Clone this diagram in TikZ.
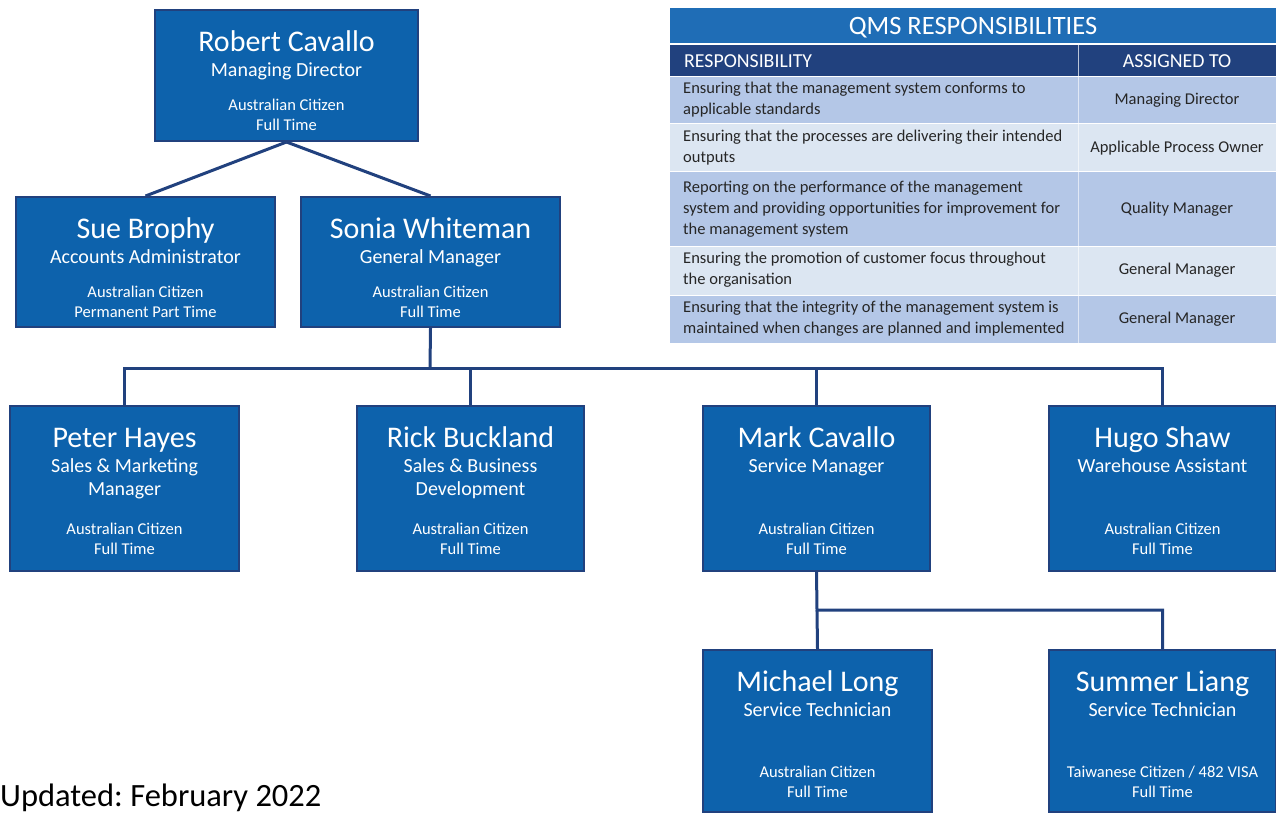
\documentclass[tikz,border=0pt]{standalone}
\usepackage{fontspec}
\setmainfont{Carlito}
\usetikzlibrary{calc}
\frenchspacing
\definecolor{boxblue}{HTML}{0D62AC}
\definecolor{navy}{HTML}{21417E}
\definecolor{titleblue}{HTML}{1F6DB6}
\definecolor{rowdark}{HTML}{B4C7E7}
\definecolor{rowlight}{HTML}{DCE6F2}
\definecolor{bodytext}{HTML}{262626}
\tikzset{
  pbox/.style={draw=navy, line width=2pt, fill=boxblue, inner sep=0pt},
  nm/.style={text=white, font=\fontsize{30}{33}\selectfont, inner sep=0pt, anchor=base},
  ttl/.style={text=white, font=\fontsize{20}{23}\selectfont, align=center, inner sep=0pt, anchor=north},
  sm/.style={text=white, font=\fontsize{16.5}{20}\selectfont, align=center, inner sep=0pt},
  link/.style={draw=navy, line width=3pt},
  cell/.style={text=bodytext, font=\fontsize{16.5}{21}\selectfont, inner sep=0pt},
}
\newcommand{\person}[8]{%
  \node[pbox, minimum width=#4-#2, minimum height=#5-#3] (#1) at ({(#2+#4)/2},{(#3+#5)/2}) {};
  \node[nm] (#1-n) at ($(#1.north)+(0,42)$) {#6};
  \node[ttl] (#1-t) at ($(#1.north)+(0,53.5)$) {#7};
  \node[sm] (#1-s) at ($(#1.north)+(0,#8)$) {\personsmall};
}
\begin{document}
\begin{tikzpicture}[x=1pt,y=-1pt]
\useasboundingbox (0,0) rectangle (1276,812);

\coordinate (bus1) at (430,368);
\coordinate (bus2) at (817,610);

\def\personsmall{Australian Citizen\\Full Time}
\person{rc}{155}{10}{418}{141}{Robert Cavallo}{Managing Director}{106}
\def\personsmall{Australian Citizen\\Permanent Part Time}
\person{sb}{16}{197}{275}{327}{Sue Brophy}{Accounts Administrator}{106}
\def\personsmall{Australian Citizen\\Full Time}
\person{sw}{301}{197}{560}{327}{Sonia Whiteman}{General Manager}{106}
\person{ph}{10}{406}{239}{571}{Peter Hayes}{Sales \& Marketing\\Manager}{134}
\person{rb}{357}{406}{584}{571}{Rick Buckland}{Sales \& Business\\Development}{134}
\person{mc}{703}{406}{930}{571}{Mark Cavallo}{Service Manager}{134}
\person{hs}{1049}{406}{1276}{571}{Hugo Shaw}{Warehouse Assistant}{134}
\person{ml}{703}{650}{932}{812}{Michael Long}{Service Technician}{133}
\def\personsmall{Taiwanese Citizen / 482 VISA\\Full Time}
\person{sl}{1049}{650}{1276}{812}{Summer Liang}{Service Technician}{133}

\draw[link] (rc.south) -- (sb.north);
\draw[link] (rc.south) -- (sw.north);
\draw[link] (sw.south) -- (bus1);
\draw[link] (ph.north) -- (ph.north |- bus1) -- (hs.north |- bus1) -- (hs.north);
\draw[link] (rb.north) -- (rb.north |- bus1);
\draw[link] (mc.north) -- (mc.north |- bus1);
\draw[link] (mc.south) -- (bus2) -- (sl.north |- bus2) -- (sl.north);
\draw[link] (bus2) -- (ml.north);

% table
\fill[titleblue] (670,8) rectangle (1276,43);
\fill[navy] (670,45) rectangle (1276,76);
\draw[white!70!navy, line width=0.6pt] (1078,45) -- (1078,76);
\fill[rowdark] (670,77) rectangle (1276,123);
\fill[rowlight] (670,124) rectangle (1276,171);
\fill[rowdark] (670,172) rectangle (1276,246);
\fill[rowlight] (670,247) rectangle (1276,295);
\fill[rowdark] (670,296) rectangle (1276,343);
\foreach \ya/\yb in {77/123,124/171,172/246,247/295,296/343}
  \draw[white, line width=0.8pt, opacity=0.6] (1078,\ya) -- (1078,\yb);

\node[text=white, font=\fontsize{26.5}{30}\selectfont, inner sep=0pt] (qt) at (973,28) {QMS RESPONSIBILITIES};
\node[text=white, font=\fontsize{19.8}{22}\selectfont, inner sep=0pt, anchor=west] (h1) at (684,61) {RESPONSIBILITY};
\node[text=white, font=\fontsize{19.8}{22}\selectfont, inner sep=0pt] (h2) at (1177,61) {ASSIGNED TO};

\node[cell, anchor=west, align=left] (r1a) at (683,100) {Ensuring that the management system conforms to\\applicable standards};
\node[cell] (r1b) at (1177,100) {Managing Director};
\node[cell, anchor=west, align=left] (r2a) at (683,148) {Ensuring that the processes are delivering their intended\\outputs};
\node[cell] (r2b) at (1177,148) {Applicable Process Owner};
\node[cell, anchor=west, align=left] (r3a) at (683,209) {Reporting on the performance of the management\\system and providing opportunities for improvement for\\the management system};
\node[cell] (r3b) at (1177,209) {Quality Manager};
\node[cell, anchor=west, align=left] (r4a) at (683,270) {Ensuring the promotion of customer focus throughout\\the organisation};
\node[cell] (r4b) at (1177,270) {General Manager};
\node[cell, anchor=west, align=left] (r5a) at (683,319) {Ensuring that the integrity of the management system is\\maintained when changes are planned and implemented};
\node[cell] (r5b) at (1177,319) {General Manager};

\node[font=\fontsize{32.5}{36}\selectfont, inner sep=0pt, anchor=base west] (upd) at (0,806) {Updated: February 2022};
\end{tikzpicture}
\end{document}
